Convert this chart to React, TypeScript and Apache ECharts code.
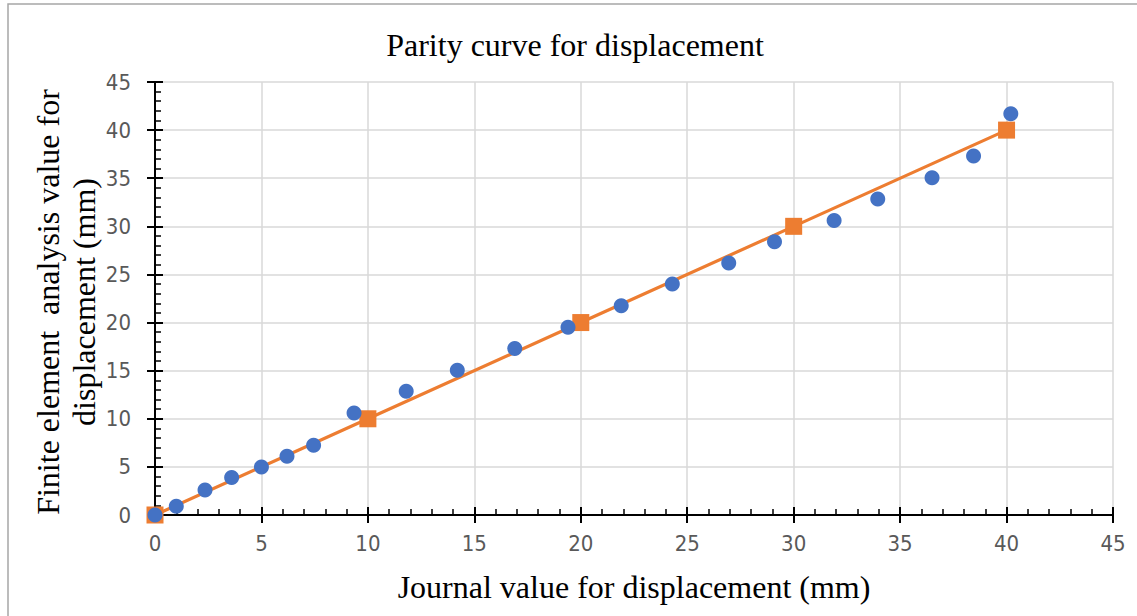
import React, { useEffect, useRef } from "react";
import * as echarts from "echarts";

const chartTitle = "Parity curve for displacement";
const xAxisTitle = "Journal value for displacement (mm)";
const yAxisTitle = "Finite element  analysis value for\ndisplacement (mm)";

const journalValues = [0, 1.0, 2.35, 3.6, 5.0, 6.2, 7.45, 9.35, 11.8, 14.2, 16.9, 19.4, 21.9, 24.3, 26.95, 29.1, 31.9, 33.95, 36.5, 38.45, 40.2];
const feaValues = [0, 0.9, 2.6, 3.9, 5.0, 6.1, 7.25, 10.6, 12.85, 15.05, 17.3, 19.5, 21.75, 24.0, 26.2, 28.4, 30.6, 32.85, 35.05, 37.3, 41.7];
const parityValues = [0, 10, 20, 30, 40];

const axisMin = 0;
const axisMax = 45;
const axisInterval = 5;

const serif = "'Liberation Serif', 'Times New Roman', serif";
const labelFont = "'Liberation Sans Narrow', 'DejaVu Sans Condensed', 'Roboto', sans-serif";

export default function App() {
  const ref = useRef<HTMLDivElement>(null);

  useEffect(() => {
    if (!ref.current) return;
    const chart = echarts.init(ref.current, null, { renderer: "svg" });

    const mainAxis = (isX: boolean) => ({
      type: "value",
      min: axisMin,
      max: axisMax,
      interval: axisInterval,
      position: isX ? "bottom" : "left",
      axisLine: { show: true, onZero: false, lineStyle: { color: "#000", width: 2 } },
      axisTick: { show: true, inside: true, length: 8, lineStyle: { color: "#000", width: 2 } },
      minorTick: { show: true, splitNumber: 5, length: 6, lineStyle: { color: "#000", width: 1.5 } },
      axisLabel: {
        show: true,
        color: "#595959",
        fontSize: 22,
        fontFamily: labelFont,
        margin: isX ? 17 : 24,
      },
      splitLine: { show: true, lineStyle: { color: "#d9d9d9", width: 1.5 } },
      minorSplitLine: { show: false },
    });

    const overlayAxis = (isX: boolean) => ({
      type: "value",
      gridIndex: 0,
      min: axisMin,
      max: axisMax,
      interval: axisInterval,
      position: isX ? "bottom" : "left",
      axisLine: { show: false },
      axisTick: { show: true, inside: false, length: 8, lineStyle: { color: "#000", width: 2 } },
      axisLabel: { show: false },
      splitLine: { show: false },
    });

    chart.setOption({
      animation: false,
      backgroundColor: "#fff",
      grid: { left: 155, right: 24, top: 82, bottom: 101, containLabel: false },
      xAxis: [mainAxis(true), overlayAxis(true)],
      yAxis: [mainAxis(false), overlayAxis(false)],
      graphic: [
        {
          type: "rect",
          shape: { x: 8, y: 4, width: 1140, height: 620 },
          style: { fill: "none", stroke: "#a6a6a6", lineWidth: 1.5 },
          silent: true,
          z: 100,
        },
        {
          type: "text",
          x: 575,
          y: 45,
          style: {
            text: chartTitle,
            font: `32px ${serif}`,
            fill: "#000",
            textAlign: "center",
            textVerticalAlign: "middle",
          },
        },
        {
          type: "text",
          x: 634,
          y: 587,
          style: {
            text: xAxisTitle,
            font: `32px ${serif}`,
            fill: "#000",
            textAlign: "center",
            textVerticalAlign: "middle",
          },
        },
        {
          type: "text",
          x: 66,
          y: 302,
          rotation: Math.PI / 2,
          style: {
            text: yAxisTitle,
            font: `32px ${serif}`,
            lineHeight: 36,
            fill: "#000",
            textAlign: "center",
            textVerticalAlign: "middle",
          },
        },
      ],
      series: [
        {
          name: "Parity",
          type: "line",
          xAxisIndex: 0,
          yAxisIndex: 0,
          data: parityValues.map((v) => [v, v]),
          symbol: "rect",
          symbolSize: 17,
          itemStyle: { color: "#ed7d31", opacity: 1 },
          lineStyle: { color: "#ed7d31", width: 3.2 },
          z: 2,
        },
        {
          name: "FEA",
          type: "scatter",
          xAxisIndex: 0,
          yAxisIndex: 0,
          data: journalValues.map((x, i) => [x, feaValues[i]]),
          symbol: "circle",
          symbolSize: 15,
          itemStyle: { color: "#4472c4", opacity: 1 },
          z: 3,
        },
      ],
    });

    return () => chart.dispose();
  }, []);

  return (
    <div
      ref={ref}
      style={{ position: "absolute", left: 0, top: 0, width: 1137, height: 616 }}
    />
  );
}
